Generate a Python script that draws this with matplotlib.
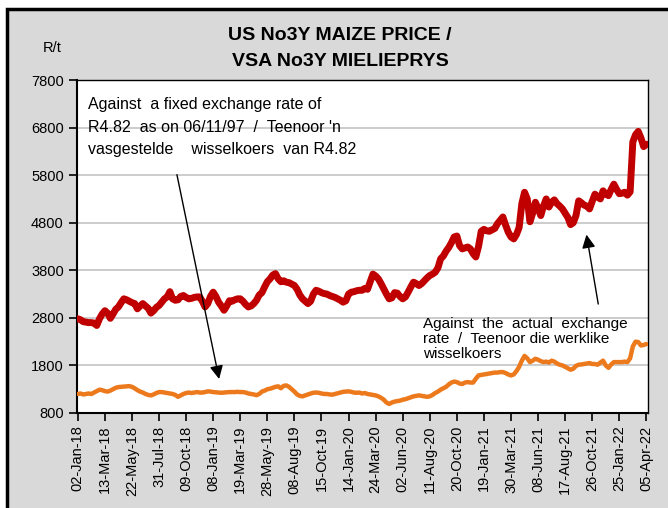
import numpy as np
import matplotlib
matplotlib.use("Agg")
import matplotlib.pyplot as plt
from matplotlib.patches import Rectangle

plt.rcParams['font.family'] = ['Liberation Sans', 'DejaVu Sans']

# tick labels, one every 10 weekly observations
tick_labels = ['02-Jan-18', '13-Mar-18', '22-May-18', '31-Jul-18', '09-Oct-18',
               '08-Jan-19', '19-Mar-19', '28-May-19', '08-Aug-19', '15-Oct-19',
               '14-Jan-20', '24-Mar-20', '02-Jun-20', '11-Aug-20', '20-Oct-20',
               '19-Jan-21', '30-Mar-21', '08-Jun-21', '17-Aug-21', '26-Oct-21',
               '25-Jan-22', '05-Apr-22']

# R/t against the actual exchange rate (weekly)
actual_rate = [
    2780, 2760, 2720, 2710, 2700, 2700, 2690, 2640, 2780, 2880,
    2950, 2900, 2790, 2880, 2980, 3030, 3120, 3200, 3180, 3150,
    3120, 3100, 2990, 3050, 3100, 3050, 3000, 2900, 2950, 3020,
    3060, 3130, 3200, 3240, 3350, 3200, 3170, 3180, 3250, 3270,
    3230, 3200, 3210, 3230, 3240, 3240, 3150, 3030, 3100, 3250,
    3340, 3250, 3130, 3050, 2960, 3050, 3160, 3150, 3180, 3200,
    3200, 3150, 3080, 3030, 3050, 3100, 3170, 3280, 3330, 3450,
    3560, 3620, 3700, 3730, 3620, 3560, 3580, 3550, 3540, 3510,
    3480, 3400, 3280, 3200, 3150, 3100, 3150, 3300, 3380, 3360,
    3330, 3310, 3300, 3270, 3250, 3230, 3200, 3170, 3130, 3160,
    3300, 3340, 3350, 3370, 3380, 3380, 3420, 3400, 3560, 3720,
    3680, 3620, 3520, 3410, 3300, 3200, 3220, 3330, 3320, 3250,
    3200, 3240, 3340, 3450, 3550, 3520, 3480, 3520, 3580, 3640,
    3690, 3720, 3760, 3850, 4040, 4100, 4200, 4280, 4380, 4500,
    4520, 4320, 4250, 4270, 4290, 4250, 4150, 4080, 4300, 4620,
    4660, 4630, 4620, 4650, 4680, 4780, 4850, 4920, 4750, 4600,
    4500, 4460, 4550, 4700, 5200, 5440, 5300, 4820, 5000, 5230,
    5100, 4950, 5150, 5300, 5130, 5230, 5280, 5200, 5150, 5090,
    5000, 4910, 4760, 4800, 4950, 5260, 5220, 5170, 5150, 5090,
    5250, 5400, 5340, 5300, 5470, 5400, 5370, 5500, 5610, 5500,
    5410, 5420, 5440, 5380, 5450, 6500, 6650, 6720, 6580, 6400,
    6450]

# R/t against the fixed exchange rate of R4.82 (weekly)
fixed_rate = [
    1200, 1210, 1190, 1200, 1210, 1200, 1230, 1260, 1290, 1280,
    1260, 1250, 1270, 1300, 1330, 1345, 1350, 1355, 1360, 1365,
    1350, 1320, 1280, 1250, 1230, 1200, 1180, 1170, 1190, 1220,
    1240, 1240, 1230, 1220, 1210, 1200, 1180, 1140, 1170, 1200,
    1220, 1230, 1220, 1230, 1240, 1230, 1230, 1240, 1255, 1250,
    1240, 1235, 1230, 1225, 1230, 1235, 1240, 1240, 1240, 1245,
    1240, 1240, 1230, 1210, 1200, 1190, 1175, 1200, 1250, 1270,
    1300, 1310, 1330, 1350, 1360, 1320, 1370, 1380, 1350, 1300,
    1250, 1190, 1160, 1150, 1170, 1190, 1210, 1225, 1230, 1225,
    1210, 1200, 1200, 1190, 1185, 1200, 1215, 1230, 1245, 1250,
    1255, 1245, 1230, 1225, 1230, 1210, 1220, 1200, 1190, 1180,
    1170, 1150, 1120, 1080, 1020, 990, 1020, 1040, 1050, 1060,
    1080, 1090, 1110, 1130, 1150, 1160, 1170, 1160, 1150, 1140,
    1150, 1180, 1220, 1250, 1290, 1320, 1350, 1400, 1440, 1460,
    1450, 1420, 1410, 1440, 1450, 1440, 1440, 1520, 1590, 1600,
    1610, 1620, 1630, 1640, 1650, 1650, 1660, 1660, 1640, 1610,
    1590, 1610, 1680, 1770, 1900, 2000, 1950, 1870, 1900, 1940,
    1920, 1890, 1870, 1880, 1860, 1900, 1880, 1840, 1815, 1800,
    1770, 1740, 1710, 1730, 1790, 1815, 1820, 1830, 1840, 1850,
    1830, 1830, 1815, 1860, 1900, 1800, 1750, 1820, 1870, 1870,
    1870, 1870, 1880, 1870, 1950, 2200, 2300, 2290, 2220, 2230,
    2250]

x = np.arange(len(actual_rate))

fig = plt.figure(figsize=(6.68, 5.08), dpi=100, facecolor='white')
# grey chart area with the heavy black frame
fig.patches.append(Rectangle((7/668, -0.02), 1.0, 1 - 9/508 + 0.02, transform=fig.transFigure,
                             facecolor='#d9d9d9', edgecolor='black', linewidth=2.5, zorder=-10))

ax = fig.add_axes([77/668, 1 - 413/508, (648 - 77)/668, (413 - 80)/508])
ax.set_facecolor('white')

ax.plot(x, actual_rate, color='#c00000', linewidth=5.0, solid_joinstyle='round',
        solid_capstyle='round', zorder=3)
ax.plot(x, fixed_rate, color='#ec7a1c', linewidth=3.2, solid_joinstyle='round',
        solid_capstyle='round', zorder=3)

ax.set_ylim(800, 7800)
ax.set_yticks(np.arange(800, 7801, 1000))
ax.set_xlim(-0.3, 210.6)
ax.set_xticks(x[::10])
ax.set_xticklabels(tick_labels, rotation=90, fontsize=10.5)
ax.tick_params(axis='y', labelsize=10.5, direction='out', length=6, width=1.2)
ax.tick_params(axis='x', direction='out', length=6, width=1.2, pad=3)
ax.yaxis.grid(True, color='#c8c8c8', linewidth=1.3)
ax.set_axisbelow(True)
for s in ax.spines.values():
    s.set_color('black')
    s.set_linewidth(1.0)
ax.spines['left'].set_linewidth(1.5)
ax.spines['bottom'].set_linewidth(1.5)

fig.text(340/668, 1 - 35/508, 'US No3Y MAIZE PRICE /', ha='center', va='center',
         fontsize=14, fontweight='bold')
fig.text(340/668, 1 - 62/508, 'VSA No3Y MIELIEPRYS', ha='center', va='center',
         fontsize=14, fontweight='bold')
fig.text(52/668, 1 - 48/508, 'R/t', ha='center', va='center', fontsize=10.5)

fig.text(88/668, 1 - 127/508,
         "Against  a fixed exchange rate of\nR4.82  as on 06/11/97  /  Teenoor 'n\nvasgestelde    wisselkoers  van R4.82",
         ha='left', va='center', fontsize=11.5, linespacing=1.6)
fig.text(423/668, 1 - 339/508,
         "Against  the  actual  exchange\nrate  /  Teenoor die werklike\nwisselkoers",
         ha='left', va='center', fontsize=11, linespacing=1.1)

ax.annotate('', xy=(52.4, 1457), xytext=(36.4, 5867),
            arrowprops=dict(arrowstyle='-|>', mutation_scale=20, color='black', lw=1.0))
ax.annotate('', xy=(187.7, 4607), xytext=(192.4, 3033),
            arrowprops=dict(arrowstyle='-|>', mutation_scale=20, color='black', lw=1.0))

fig.savefig('out.png', dpi=100, facecolor='white')
